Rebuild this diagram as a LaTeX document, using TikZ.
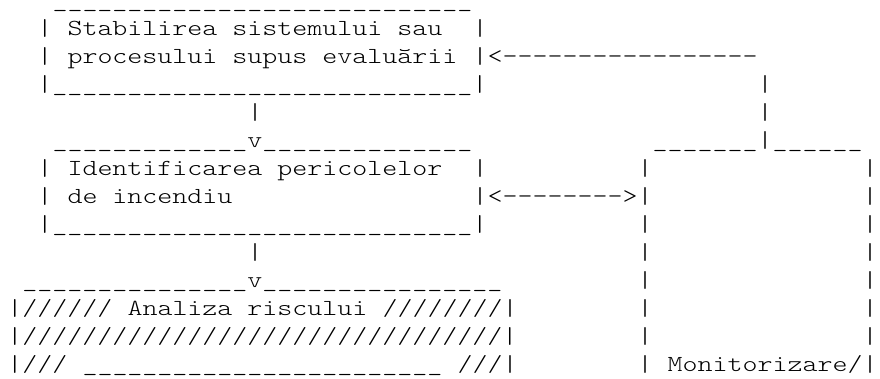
\documentclass[tikz,border=0pt]{standalone}
\usepackage{graphicx}
\ExplSyntaxOn
\NewDocumentCommand\myrep{mm}{\prg_replicate:nn{#1}{#2}}
\ExplSyntaxOff
\newcommand\U[1]{\myrep{#1}{\_}}
\newcommand\D[1]{\myrep{#1}{-\kern0pt}}
\newcommand\SL[1]{\myrep{#1}{/}}
\tikzset{
  seg/.style={anchor=base west, inner sep=0pt, outer sep=0pt,
    font=\fontsize{23}{26}\fontseries{l}\ttfamily\selectfont}
}
\newcommand\mseg[4]{\node[seg] (#1) at ({7.5+15*#3},{7.5+28*(#2-1)}) {\scalebox{1.2422}[1]{#4}};}
\begin{document}
\begin{tikzpicture}[x=1pt,y=-1pt]
\fill[white] (0,0) rectangle (880,379);
\useasboundingbox (0,0) rectangle (880,379);
% line 1
\mseg{topA}{1}{3}{\smash{\U{28}}}
% line 2
\mseg{aL2}{2}{2}{|}
\mseg{stab}{2}{4}{Stabilirea sistemului sau}
\mseg{aR2}{2}{31}{|}
% line 3
\mseg{aL3}{3}{2}{|}
\mseg{proc}{3}{4}{procesului supus evaluării}
\mseg{fb}{3}{31}{|<\D{17}}
% line 4
\mseg{aBot}{4}{2}{|\U{28}|}
\mseg{fb4}{4}{50}{|}
% line 5
\mseg{ab5}{5}{16}{|}
\mseg{fb5}{5}{50}{|}
% line 6
\mseg{bTop}{6}{3}{\U{13}v\U{14}}
\mseg{mTop}{6}{43}{\U{7}|\U{6}}
% line 7
\mseg{bL7}{7}{2}{|}
\mseg{ident}{7}{4}{Identificarea pericolelor}
\mseg{bR7}{7}{31}{|}
\mseg{mL7}{7}{42}{|}
\mseg{mR7}{7}{57}{|}
% line 8
\mseg{bL8}{8}{2}{|}
\mseg{inc}{8}{4}{de incendiu}
\mseg{bm}{8}{31}{|<\D{8}>|}
\mseg{mR8}{8}{57}{|}
% line 9
\mseg{bBot}{9}{2}{|\U{28}|}
\mseg{mL9}{9}{42}{|}
\mseg{mR9}{9}{57}{|}
% line 10
\mseg{bc10}{10}{16}{|}
\mseg{mL10}{10}{42}{|}
\mseg{mR10}{10}{57}{|}
% line 11
\mseg{cTop}{11}{1}{\U{15}v\U{16}}
\mseg{mL11}{11}{42}{|}
\mseg{mR11}{11}{57}{|}
% line 12
\mseg{cL12}{12}{0}{|\SL{6}}
\mseg{anal}{12}{8}{Analiza riscului}
\mseg{cR12}{12}{25}{\SL{8}|}
\mseg{mL12}{12}{42}{|}
\mseg{mR12}{12}{57}{|}
% line 13
\mseg{c13}{13}{0}{|\SL{32}|}
\mseg{mL13}{13}{42}{|}
\mseg{mR13}{13}{57}{|}
% line 14
\mseg{cL14}{14}{0}{|\SL{3}}
\mseg{cU14}{14}{5}{\U{24}}
\mseg{cR14}{14}{30}{\SL{3}|}
\mseg{mL14}{14}{42}{|}
\mseg{mon}{14}{44}{Monitorizare/|}
\end{tikzpicture}
\end{document}
